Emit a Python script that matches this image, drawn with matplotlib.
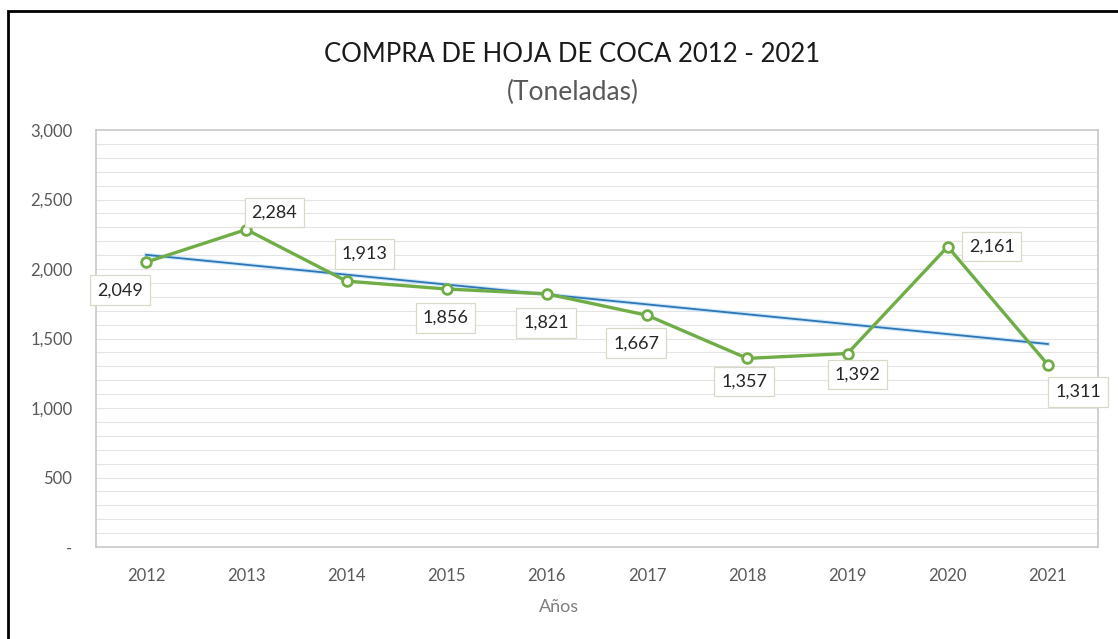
import matplotlib.pyplot as plt
import numpy as np
from matplotlib.patches import Rectangle

plt.rcParams['font.family'] = ['Lato', 'DejaVu Sans']

years = ['2012', '2013', '2014', '2015', '2016', '2017', '2018', '2019', '2020', '2021']
tonnes = [2049, 2284, 1913, 1856, 1821, 1667, 1357, 1392, 2161, 1311]
y_ticks = [0, 500, 1000, 1500, 2000, 2500, 3000]
y_tick_labels = ['-', '500', '1,000', '1,500', '2,000', '2,500', '3,000']

# label offsets in pixels (dx, dy) from each point
label_offsets = [(-26, -28), (28, 17), (18, 27), (-1, -29), (-1, -29),
                 (-11, -28), (-3, -23), (10, -21), (44, 0), (30, -27)]

green = '#70AD47'
blue = '#2E75B6'
grey_txt = '#595959'

fig = plt.figure(figsize=(11.18, 6.39), dpi=100)
ax = fig.add_axes([96 / 1118, 1 - 547 / 639, (1098 - 96) / 1118, (547 - 130) / 639])

x = np.arange(len(years))

# minor grid every 100
for v in range(100, 3000, 100):
    ax.axhline(v, color='#E4E4E4', lw=0.8, zorder=0)

# linear trend
slope, intercept = np.polyfit(x, tonnes, 1)
ax.plot(x, slope * x + intercept, color='#9DD3F5', lw=3.0, alpha=0.5, zorder=2)
ax.plot(x, slope * x + intercept, color=blue, lw=1.3, zorder=3)

ax.plot(x, tonnes, color=green, lw=2.4, marker='o', ms=7, mfc='white',
        mec=green, mew=2, zorder=4)

for xi, val, (dx, dy) in zip(x, tonnes, label_offsets):
    ax.annotate(f'{val:,}', (xi, val), xytext=(dx, dy), textcoords='offset pixels',
                ha='center', va='center', fontsize=13, color='#262626', zorder=5,
                bbox=dict(boxstyle='square,pad=0.38', fc='white', ec='#D9D9C8', lw=0.9))

ax.set_xlim(-0.5, len(years) - 0.5)
ax.set_ylim(0, 3000)
ax.set_xticks(x)
ax.set_xticklabels(years)
ax.set_yticks(y_ticks)
ax.set_yticklabels(y_tick_labels)
ax.tick_params(length=0, labelsize=12, colors=grey_txt)
ax.tick_params(axis='x', pad=15)
ax.tick_params(axis='y', pad=17)
for s in ax.spines.values():
    s.set_color('#C8C8C8')
    s.set_linewidth(1.2)

fig.text(572 / 1118, 1 - 55 / 639, 'COMPRA DE HOJA DE COCA 2012 - 2021', ha='center',
         va='center', fontsize=18.5, color='#1a1a1a')
fig.text(573 / 1118, 1 - 92 / 639, '(Toneladas)', ha='center', va='center',
         fontsize=19, color=grey_txt)
fig.text(559 / 1118, 1 - 607 / 639, 'Años', ha='center', va='center',
         fontsize=13, color='#7f7f7f')

# outer frame
fig.patches.append(Rectangle((8 / 1118, -0.1), 1.2, 1.1 - 11 / 639,
                             transform=fig.transFigure, fill=False, ec='black', lw=2))

fig.savefig('out.png', dpi=100)
